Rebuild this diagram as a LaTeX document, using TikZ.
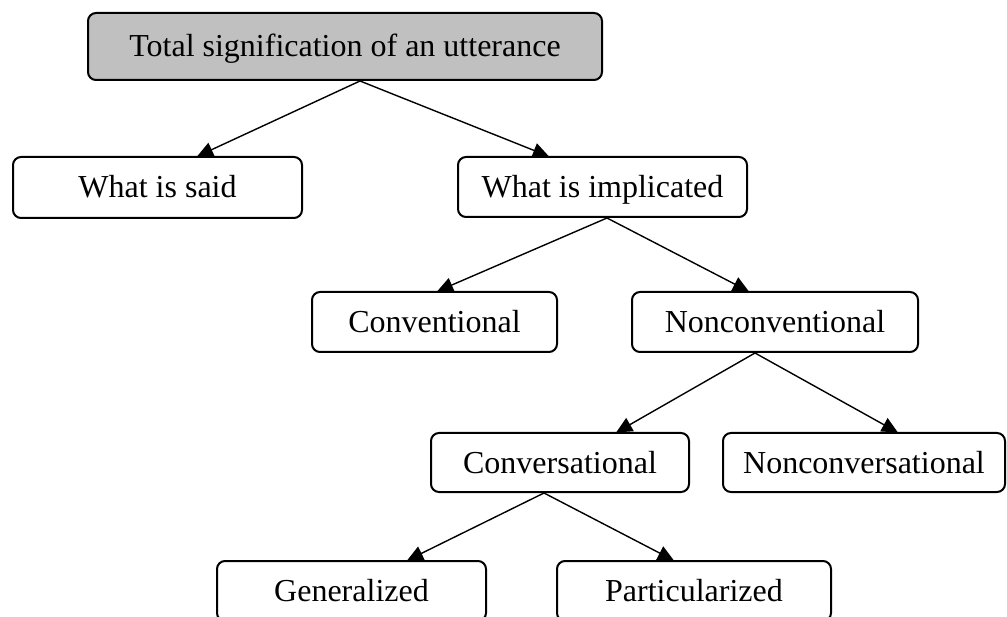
\documentclass[tikz,border=0pt]{standalone}
\usepackage{fontspec}
\setmainfont{Liberation Serif}
\usetikzlibrary{arrows.meta,calc}
\definecolor{rootgray}{RGB}{192,192,192}
\tikzset{
  box/.style={draw=black, line width=2pt, rounded corners=8pt, fill=white,
    inner sep=0pt, text height=21pt, text depth=0pt,
    font=\fontsize{32}{38}\selectfont},
  rootbox/.style={box, fill=rootgray},
  link/.style={line width=1.4pt, -{Triangle[length=16pt,width=15pt]}, shorten >=-1pt}
}
\begin{document}
\begin{tikzpicture}[x=1pt,y=-1pt]
  \clip (0,0) rectangle (1007,617);
  \fill[white] (0,0) rectangle (1007,617);

  % boxes of the taxonomy
  \node[rootbox, minimum width=514pt, minimum height=67pt] (root) at (345,46.5) {Total signification of an utterance};
  \node[box, minimum width=289pt, minimum height=61pt] (said) at (157.5,187.5) {What is said};
  \node[box, minimum width=289pt, minimum height=60pt] (impl) at (602.5,187) {What is implicated};
  \node[box, minimum width=245pt, minimum height=60pt] (conv) at (434.5,322) {Conventional};
  \node[box, minimum width=286pt, minimum height=60pt] (nonconv) at (775,322) {Nonconventional};
  \node[box, minimum width=258pt, minimum height=59pt] (convers) at (560,462.5) {Conversational};
  \node[box, minimum width=282pt, minimum height=59pt] (nonconvers) at (864,462.5) {Nonconversational};
  \node[box, minimum width=269pt, minimum height=60pt] (gen) at (351.5,591) {Generalized};
  \node[box, minimum width=274pt, minimum height=60pt] (part) at (694,591) {Particularized};

  % branches
  \draw[link] ($(root.south)+(15,0)$) -- ($(said.north)+(40.5,0)$);
  \draw[link] ($(root.south)+(15,0)$) -- ($(impl.north)+(-54.5,0)$);
  \draw[link] ($(impl.south)+(4.5,0)$) -- ($(conv.north)+(3.5,0)$);
  \draw[link] ($(impl.south)+(4.5,0)$) -- ($(nonconv.north)+(-27,0)$);
  \draw[link] ($(nonconv.south)+(-20,0)$) -- ($(convers.north)+(57,0)$);
  \draw[link] ($(nonconv.south)+(-20,0)$) -- ($(nonconvers.north)+(33,0)$);
  \draw[link] ($(convers.south)+(-16,0)$) -- ($(gen.north)+(56.5,0)$);
  \draw[link] ($(convers.south)+(-16,0)$) -- ($(part.north)+(-21,0)$);
\end{tikzpicture}
\end{document}
